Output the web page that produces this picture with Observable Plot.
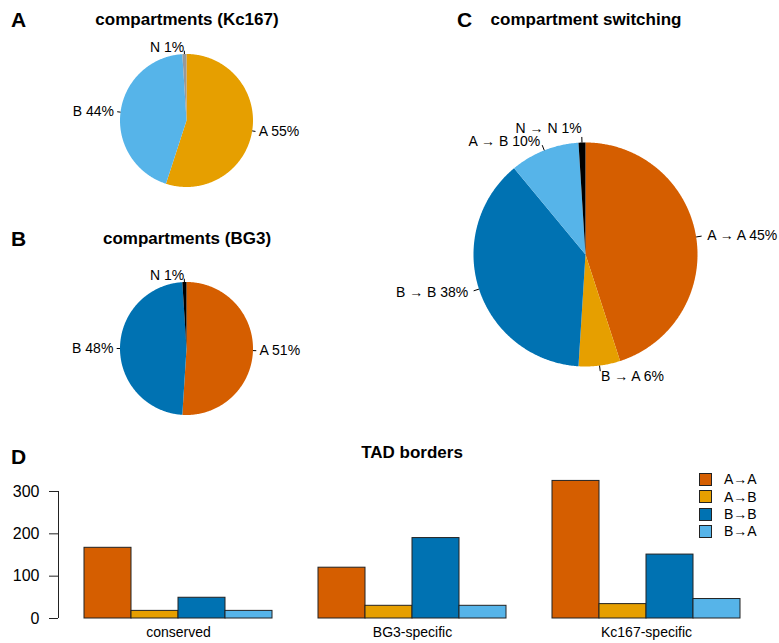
<!DOCTYPE html>
<html>
<head>
<meta charset="utf-8">
<script src="https://cdn.jsdelivr.net/npm/d3@7"></script>
<script src="https://cdn.jsdelivr.net/npm/@observablehq/plot@0.6"></script>
<style>
  html, body { margin: 0; padding: 0; background: white; }
  #root { position: relative; width: 779px; height: 643px; background: white; font-family: "Liberation Sans", Arial, Helvetica, sans-serif; color: black; overflow: hidden; }
  .abs { position: absolute; white-space: nowrap; }
</style>
</head>
<body>
<div id="root"></div>
<script>
// ---- data ----
const kcCategories = ["A", "B", "N"];
const kcValues = [55, 44, 1];
const kcColors = ["#E69F00", "#56B4E9", "#999999"];

const bgCategories = ["A", "B", "N"];
const bgValues = [51, 48, 1];
const bgColors = ["#D55E00", "#0072B2", "#000000"];

const switchCategories = ["A → A", "B → A", "B → B", "A → B", "N → N"];
const switchValues = [45, 6, 38, 10, 1];
const switchColors = ["#D55E00", "#E69F00", "#0072B2", "#56B4E9", "#000000"];

const tadGroups = ["conserved", "BG3-specific", "Kc167-specific"];
const tadSeries = ["A→A", "A→B", "B→B", "B→A"];
const tadConserved = [167, 18, 49, 18];
const tadBG3 = [120, 30, 190, 30];
const tadKc167 = [325, 34, 151, 46];
const tadColors = ["#D55E00", "#E69F00", "#0072B2", "#56B4E9"];
const yTicks = [0, 100, 200, 300];

// ---- helpers ----
const root = document.getElementById("root");
const FONT = "'Liberation Sans', Arial, Helvetica, sans-serif";

function place(el, left, top) {
  el.style.position = "absolute";
  el.style.left = left + "px";
  el.style.top = top + "px";
  root.appendChild(el);
  return el;
}

function txt(str, x, baseline, size, bold, anchor) {
  const d = document.createElement("div");
  d.className = "abs";
  d.textContent = str;
  d.style.fontSize = size + "px";
  d.style.lineHeight = size + "px";
  d.style.fontWeight = bold ? "bold" : "normal";
  const top = baseline - 0.8465 * size;
  if (anchor === "middle") {
    d.style.width = "500px";
    d.style.textAlign = "center";
    place(d, x - 250, top);
  } else {
    place(d, x, top);
  }
  return d;
}

// nudge: optional vertical label shifts (px) by category, to keep labels apart
function pie(cats, vals, colors, r, w, h, nudge = {}) {
  const total = d3.sum(vals);
  let acc = 0;
  const slices = vals.map((v, i) => {
    const a0 = acc / total * 2 * Math.PI;
    acc += v;
    const a1 = acc / total * 2 * Math.PI;
    return {cat: cats[i], v, color: colors[i], a0, a1, mid: (a0 + a1) / 2};
  });
  const wedges = slices.map(s => {
    const n = Math.max(2, Math.ceil((s.a1 - s.a0) / (Math.PI / 360)));
    const pts = [{x: 0, y: 0}];
    for (let k = 0; k <= n; k++) {
      const a = s.a0 + (s.a1 - s.a0) * k / n;
      pts.push({x: Math.sin(a), y: Math.cos(a)});
    }
    return Plot.line(pts, {x: "x", y: "y", fill: s.color, stroke: "none"});
  });
  const lab = s => `${s.cat} ${s.v}%`;
  const labelMarks = slices.map(s => Plot.text([s], {
    x: d => 1.1 * Math.sin(d.mid), y: d => 1.1 * Math.cos(d.mid),
    text: lab, textAnchor: Math.sin(s.mid) < 0 ? "end" : "start",
    dy: nudge[s.cat] || 0, fontSize: 14, fill: "black"
  }));
  return Plot.plot({
    width: w, height: h, margin: 0,
    x: {domain: [-w / 2 / r, w / 2 / r], axis: null},
    y: {domain: [-h / 2 / r, h / 2 / r], axis: null},
    style: {fontFamily: FONT, fontSize: "14px", background: "transparent", overflow: "visible", color: "black"},
    marks: [
      ...wedges,
      Plot.link(slices, {
        x1: s => Math.sin(s.mid), y1: s => Math.cos(s.mid),
        x2: s => 1.05 * Math.sin(s.mid), y2: s => 1.05 * Math.cos(s.mid),
        stroke: "black", strokeWidth: 1
      }),
      ...labelMarks
    ]
  });
}

// ---- panel letters and titles ----
txt("A", 11, 27, 21, true, "start");
txt("B", 11, 246, 21, true, "start");
txt("C", 457, 27, 21, true, "start");
txt("D", 11, 464, 21, true, "start");
txt("compartments (Kc167)", 187, 25, 17, true, "middle");
txt("compartments (BG3)", 187, 244, 17, true, "middle");
txt("compartment switching", 586, 25, 17, true, "middle");
txt("TAD borders", 412, 458, 17, true, "middle");

// ---- pies ----
const rAB = 66.5, wAB = 360, hAB = 170;
place(pie(kcCategories, kcValues, kcColors, rAB, wAB, hAB), 185.5 - wAB / 2, 120 - hAB / 2);
place(pie(bgCategories, bgValues, bgColors, rAB, wAB, hAB), 185.5 - wAB / 2, 348 - hAB / 2);
const rC = 112, wC = 388, hC = 280;
place(pie(switchCategories, switchValues, switchColors, rC, wC, hC, {"N → N": -3, "A → B": 2}), 585 - wC / 2, 254 - hC / 2);

// ---- bar chart ----
const tadTable = [tadConserved, tadBG3, tadKc167];
const tadData = tadGroups.flatMap((g, gi) => tadSeries.map((s, si) => ({group: g, series: s, value: tadTable[gi][si]})));
const yDomain = [0, 349.6];
const barTop = 470, barH = 173;

const axisPlot = Plot.plot({
  width: 84, height: barH, marginLeft: 58, marginRight: 0, marginTop: 0, marginBottom: 25,
  x: {domain: [0, 1], axis: null},
  y: {domain: yDomain},
  style: {fontFamily: FONT, fontSize: "16px", background: "transparent", overflow: "visible", color: "black"},
  marks: [
    Plot.ruleX([0], {y1: 0, y2: 300, stroke: "#222"}),
    Plot.axisY({ticks: yTicks, tickSize: 9, tickPadding: 10, fontSize: 16, label: null, stroke: "#222"})
  ]
});
place(axisPlot, 0, barTop);

const barPlot = Plot.plot({
  width: 695, height: barH, marginLeft: 0, marginRight: 39, marginTop: 0, marginBottom: 25,
  fx: {domain: tadGroups, paddingInner: 46 / 234, paddingOuter: 0, label: null},
  x: {domain: tadSeries, padding: 0, axis: null},
  y: {domain: yDomain, axis: null},
  color: {domain: tadSeries, range: tadColors},
  style: {fontFamily: FONT, fontSize: "14px", background: "transparent", overflow: "visible", color: "black"},
  marks: [
    Plot.barY(tadData, {fx: "group", x: "series", y: "value", fill: "series", stroke: "#222", strokeWidth: 1, inset: 0}),
    Plot.axisFx({anchor: "bottom", tickSize: 0, tickPadding: 9, fontSize: 14, label: null})
  ]
});
place(barPlot, 84, barTop);

// ---- legend ----
const legendRows = [479, 496.5, 514, 531];
tadSeries.forEach((s, i) => {
  const sw = document.createElement("div");
  sw.style.width = "11px";
  sw.style.height = "11px";
  sw.style.background = tadColors[i];
  sw.style.border = "1px solid #222";
  place(sw, 699, legendRows[i] - 6.5);
  txt(s, 724, legendRows[i] + 5, 14, false, "start");
});
</script>
</body>
</html>
